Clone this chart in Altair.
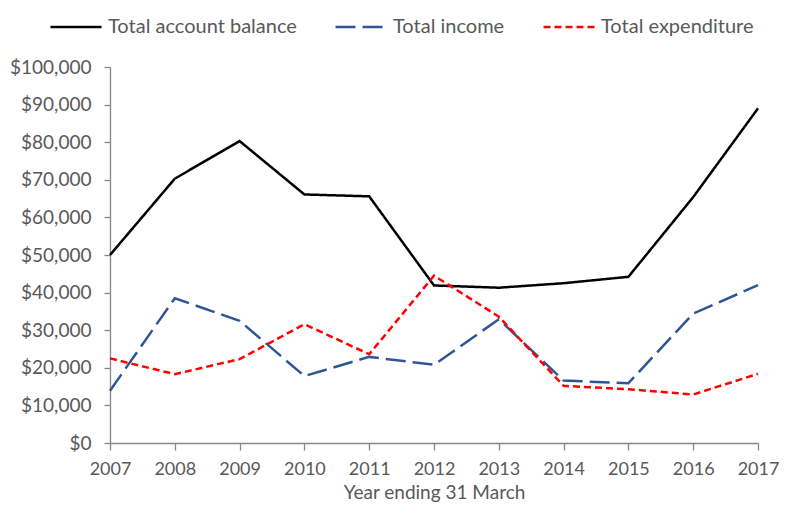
import altair as alt
import pandas as pd

years = [2007, 2008, 2009, 2010, 2011, 2012, 2013, 2014, 2015, 2016, 2017]
balance = [50000, 70300, 80300, 66100, 65600, 41900, 41300, 42500, 44200, 65400, 89000]
income = [13900, 38500, 32500, 17800, 22900, 20800, 32900, 16600, 15900, 34400, 42000]
expenditure = [22500, 18300, 22300, 31600, 23600, 44500, 33600, 15200, 14300, 12900, 18400]

series_names = ["Total account balance", "Total income", "Total expenditure"]
series_colors = ["#000000", "#2F5597", "#FF0000"]
series_dash = [[1, 0], [20, 7], [7, 4]]
y_ticks = [0, 10000, 20000, 30000, 40000, 50000, 60000, 70000, 80000, 90000, 100000]

rows = []
for name, vals in zip(series_names, [balance, income, expenditure]):
    for yr, v in zip(years, vals):
        rows.append({"Year": yr, "Value": v, "Series": name})
df = pd.DataFrame(rows)

FONT = "Lato"
GREY = "#595959"

legend = alt.Legend(
    title=None,
    orient="none",
    direction="horizontal",
    legendX=-61,
    legendY=-67,
    symbolType="stroke",
    symbolSize=2600,
    symbolStrokeWidth=2.5,
    labelFontSize=20,
    labelFont=FONT,
    labelColor=GREY,
    labelOffset=5,
    columnPadding=33,
    labelLimit=400,
)

chart = alt.Chart(df).mark_line(strokeWidth=2.5).encode(
    x=alt.X("Year:Q",
            scale=alt.Scale(domain=[2007, 2017], nice=False, zero=False),
            axis=alt.Axis(values=years, format="d", title="Year ending 31 March",
                          grid=False, tickSize=7, labelPadding=10, labelFontSize=18,
                          labelFlush=False, labelOverlap=False, labelBound=False,
                          titlePadding=5)),
    y=alt.Y("Value:Q",
            scale=alt.Scale(domain=[0, 100000], nice=False),
            axis=alt.Axis(values=y_ticks, format="$,.0f", title=None,
                          grid=False, tickSize=6, labelPadding=13,
                          labelFlush=False, labelOverlap=False)),
    color=alt.Color("Series:N", sort=series_names,
                    scale=alt.Scale(domain=series_names, range=series_colors),
                    legend=legend),
    strokeDash=alt.StrokeDash("Series:N", sort=series_names,
                              scale=alt.Scale(domain=series_names, range=series_dash),
                              legend=legend),
    detail="Series:N",
).properties(
    width=648,
    height=376,
    autosize=alt.AutoSizeParams(type="none"),
    padding={"left": 102, "top": 59, "right": 23, "bottom": 63},
).configure_view(
    stroke=None
).configure_axis(
    domainColor="#868686",
    tickColor="#868686",
    domainWidth=1.3,
    tickWidth=1.3,
    labelFont=FONT,
    labelFontSize=19,
    labelColor=GREY,
    titleFont=FONT,
    titleFontSize=19,
    titleColor=GREY,
    titleFontWeight="normal",
)

chart.save("out.html", embed_options={"renderer": "svg", "actions": False})
